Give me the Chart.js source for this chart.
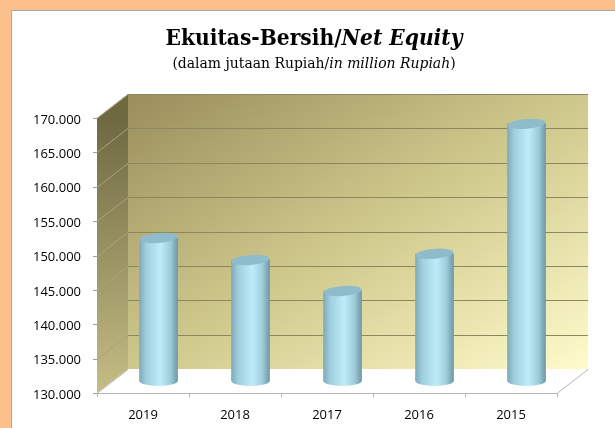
<!DOCTYPE html>
<html>
<head>
<meta charset="utf-8">
<style>
  html, body { margin: 0; padding: 0; background: #fbc08c; overflow: hidden; }
  #panel { position: absolute; left: 11px; top: 10px; width: 604px; height: 418px; background: #fff; border-left: 1px solid #a8a8a8; border-top: 1px solid #a8a8a8; box-sizing: border-box; }
  canvas { position: absolute; left: 0; top: 0; }
</style>
<script src="https://cdn.jsdelivr.net/npm/chart.js@4"></script>
</head>
<body>
<div id="panel"></div>
<canvas id="equityChart" width="615" height="428"></canvas>
<script>
const years = ["2019", "2018", "2017", "2016", "2015"];
const equity = [150800, 147600, 143100, 148500, 167400];
const axisMin = 130000;
const axisMax = 170000;
const axisStep = 5000;

const titleRuns = [
  { text: "Ekuitas-Bersih/", font: "bold 22.5px 'DejaVu Serif Condensed', 'DejaVu Serif'" },
  { text: "Net Equity", font: "italic bold 22.5px 'DejaVu Serif Condensed', 'DejaVu Serif'" },
];
const subtitleRuns = [
  { text: "(dalam jutaan Rupiah/", font: "15.5px 'DejaVu Serif Condensed', 'DejaVu Serif'" },
  { text: "in million Rupiah", font: "italic 15.5px 'DejaVu Serif Condensed', 'DejaVu Serif'" },
  { text: ")", font: "15.5px 'DejaVu Serif Condensed', 'DejaVu Serif'" },
];

// 3D depth of the box, cylinders stand half way in
const depthX = 31;
const depthY = 24;
const barSize = 38;

function polygon(ctx, pts) {
  ctx.beginPath();
  pts.forEach((p, i) => (i ? ctx.lineTo(p[0], p[1]) : ctx.moveTo(p[0], p[1])));
  ctx.closePath();
}

function drawRuns(ctx, runs, centerX, y) {
  let width = 0;
  runs.forEach((r) => {
    ctx.font = r.font;
    width += ctx.measureText(r.text).width;
  });
  let x = centerX - width / 2;
  ctx.textAlign = "left";
  ctx.textBaseline = "alphabetic";
  ctx.fillStyle = "#000";
  runs.forEach((r) => {
    ctx.font = r.font;
    ctx.fillText(r.text, x, y);
    x += ctx.measureText(r.text).width;
  });
}

function cylinderGradient(ctx, centerX) {
  const g = ctx.createLinearGradient(centerX - barSize / 2, 0, centerX + barSize / 2, 0);
  g.addColorStop(0, "#7fabba");
  g.addColorStop(0.18, "#a0cfde");
  g.addColorStop(0.55, "#bfecf8");
  g.addColorStop(0.82, "#9ecbd8");
  g.addColorStop(1, "#6f98a6");
  return g;
}

const boxPlugin = {
  id: "boxPlugin",
  beforeDatasetsDraw(chart) {
    const { ctx, chartArea: a, scales } = chart;
    const top = a.top, bottom = a.bottom, left = a.left, right = a.right;
    ctx.save();

    // dinding belakang, arah gradien tegak lurus diagonal
    const w = right - left, h = bottom - top;
    const k = (2 * w * h) / (w * w + h * h);
    const x0 = left + depthX, y0 = top - depthY;
    const back = ctx.createLinearGradient(x0, y0, x0 + h * k, y0 + w * k);
    back.addColorStop(0, "#9a8e5c");
    back.addColorStop(0.5, "#cfc88c");
    back.addColorStop(1, "#fffbcb");
    ctx.fillStyle = back;
    ctx.fillRect(x0, y0, w, h);

    // dinding kiri
    const side = ctx.createLinearGradient(0, top, 0, bottom);
    side.addColorStop(0, "#6f6942");
    side.addColorStop(1, "#c4bd85");
    ctx.fillStyle = side;
    polygon(ctx, [[left, top], [left + depthX, top - depthY], [left + depthX, bottom - depthY], [left, bottom]]);
    ctx.fill();

    // garis grid
    ctx.lineWidth = 1;
    scales.y.ticks.forEach((t) => {
      const y = Math.round(scales.y.getPixelForValue(t.value)) + 0.5;
      ctx.strokeStyle = "#a9a37a";
      ctx.beginPath();
      ctx.moveTo(left, y);
      ctx.lineTo(left + depthX, y - depthY);
      ctx.stroke();
      ctx.strokeStyle = "#8d8760";
      ctx.beginPath();
      ctx.moveTo(left + depthX, y - depthY);
      ctx.lineTo(right + depthX, y - depthY);
      ctx.stroke();
      // tick kiri
      ctx.strokeStyle = "#a0a0a0";
      ctx.beginPath();
      ctx.moveTo(left - 4, y);
      ctx.lineTo(left, y);
      ctx.stroke();
    });

    // lantai
    polygon(ctx, [[left, bottom], [left + depthX, bottom - depthY], [right + depthX, bottom - depthY], [right, bottom]]);
    ctx.fillStyle = "#fff";
    ctx.fill();
    ctx.strokeStyle = "#b5b5b5";
    ctx.beginPath();
    ctx.moveTo(left + depthX, bottom - depthY + 0.5);
    ctx.lineTo(left, bottom + 0.5);
    ctx.lineTo(right, bottom + 0.5);
    ctx.lineTo(right + depthX, bottom - depthY + 0.5);
    ctx.stroke();

    // tick bawah
    const band = (right - left) / years.length;
    for (let i = 0; i <= years.length; i++) {
      const x = Math.round(left + band * i) + 0.5;
      ctx.beginPath();
      ctx.moveTo(x, bottom);
      ctx.lineTo(x, bottom + 4);
      ctx.stroke();
    }

    // alas silinder
    const meta = chart.getDatasetMeta(0);
    meta.data.forEach((bar) => {
      ctx.fillStyle = cylinderGradient(ctx, bar.x + depthX / 2);
      ctx.beginPath();
      ctx.ellipse(bar.x + depthX / 2, bottom - depthY / 2, barSize / 2, 5, 0, 0, Math.PI * 2);
      ctx.fill();
    });
    ctx.restore();

    // batang digeser ke tengah kedalaman
    ctx.save();
    ctx.translate(depthX / 2, -depthY / 2);
  },
  afterDatasetsDraw(chart) {
    const { ctx } = chart;
    ctx.restore();
    ctx.save();
    const meta = chart.getDatasetMeta(0);
    meta.data.forEach((bar) => {
      ctx.fillStyle = "#8fbccb";
      ctx.beginPath();
      ctx.ellipse(bar.x + depthX / 2, bar.y - depthY / 2, barSize / 2, 5, -0.08, 0, Math.PI * 2);
      ctx.fill();
    });
    ctx.restore();
  },
  afterDraw(chart) {
    const { ctx } = chart;
    ctx.save();
    drawRuns(ctx, titleRuns, 314, 45);
    drawRuns(ctx, subtitleRuns, 314, 68);
    ctx.restore();
  },
};

new Chart(document.getElementById("equityChart"), {
  type: "bar",
  data: {
    labels: years,
    datasets: [
      {
        data: equity,
        base: axisMin,
        clip: false,
        barThickness: barSize,
        backgroundColor(context) {
          const x = context.chart.scales.x.getPixelForValue(context.dataIndex);
          if (!Number.isFinite(x)) return "#a0cfde";
          return cylinderGradient(context.chart.ctx, x);
        },
      },
    ],
  },
  plugins: [boxPlugin],
  options: {
    responsive: false,
    animation: false,
    layout: { padding: { left: 0, right: 58, top: 118, bottom: 0 } },
    plugins: { legend: { display: false }, tooltip: { enabled: false } },
    scales: {
      x: {
        grid: { display: false },
        border: { display: false },
        ticks: { color: "#000", font: { family: "'Open Sans'", size: 13 }, padding: 6 },
        afterFit(scale) { scale.height = 35; },
      },
      y: {
        min: axisMin,
        max: axisMax,
        grid: { display: false },
        border: { display: false },
        ticks: {
          stepSize: axisStep,
          color: "#000",
          padding: 8,
          labelOffset: 2,
          font: { family: "'Open Sans'", size: 13 },
          callback: (v) => (v / 1000).toFixed(3),
        },
        afterFit(scale) { scale.width = 97; },
      },
    },
  },
});
</script>
</body>
</html>
